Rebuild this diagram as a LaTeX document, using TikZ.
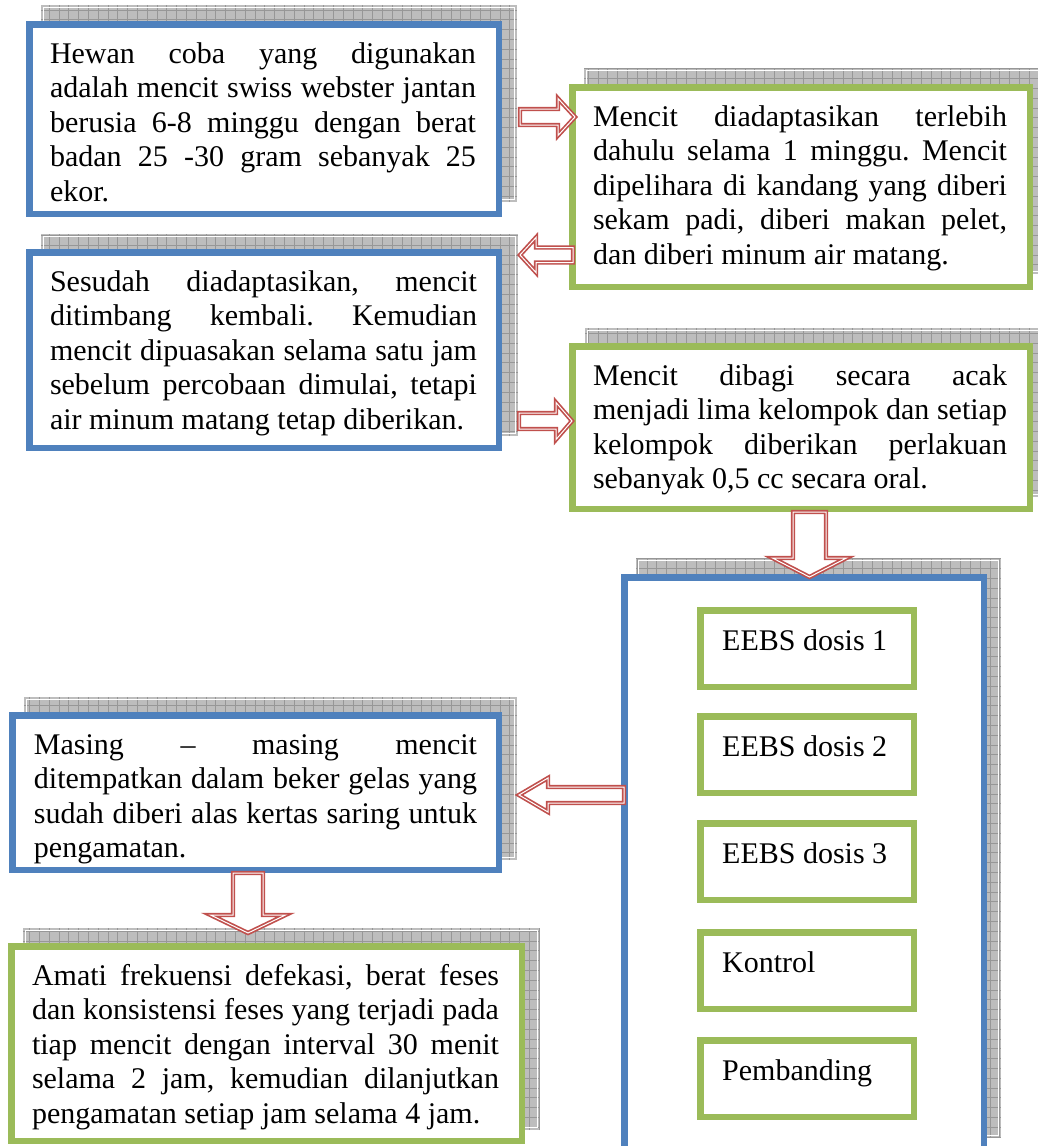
\documentclass[tikz,border=0pt]{standalone}
\usepackage{fontspec}
\setmainfont{Liberation Serif}
\usetikzlibrary{calc}
\definecolor{wblue}{HTML}{4F81BD}
\definecolor{wgreen}{HTML}{9BBB59}
\definecolor{wred}{HTML}{C0504D}
\definecolor{shfill}{HTML}{BDBDBD}
\definecolor{shgrid}{HTML}{979797}
\newlength{\jwid}
\newcommand{\rsp}{\spaceskip=0pt\relax\xspaceskip=0pt\relax}
\newcommand{\jl}[1]{\makebox[\jwid][s]{\rsp #1}\\}
\newcommand{\shadowrect}[4]{%
  \fill[shfill] (#1,#2) rectangle (#3,#4);
  \begin{scope}
    \clip (#1,#2) rectangle (#3,#4);
    \draw[shgrid, line width=0.5pt, step=9.8pt] (#1,#4) grid (#3,#2);
  \end{scope}
  \draw[white, line width=0.7pt] (#1+2.5,#2+2.5) rectangle (#3-2.5,#4-2.5);}
\newcommand{\arrowR}[5]{\draw[barrow] let \p1=(#1), \p2=(#2) in
  (\x1,\y1+#4) -- (\x2-#3,\y1+#4) -- (\x2-#3,\y1+#5) -- (\x2,\y1) --
  (\x2-#3,\y1-#5) -- (\x2-#3,\y1-#4) -- (\x1,\y1-#4) -- cycle;}
\newcommand{\arrowL}[5]{\draw[barrow] let \p1=(#1), \p2=(#2) in
  (\x1,\y1+#4) -- (\x2+#3,\y1+#4) -- (\x2+#3,\y1+#5) -- (\x2,\y1) --
  (\x2+#3,\y1-#5) -- (\x2+#3,\y1-#4) -- (\x1,\y1-#4) -- cycle;}
\newcommand{\arrowD}[5]{\draw[barrow] let \p1=(#1), \p2=(#2) in
  (\x1-#4,\y1) -- (\x1-#4,\y2+#3) -- (\x1-#5,\y2+#3) -- (\x1,\y2) --
  (\x1+#5,\y2+#3) -- (\x1+#4,\y2+#3) -- (\x1+#4,\y1) -- cycle;}
\tikzset{
  frame/.style={anchor=north west, fill=white, line width=6.5pt, inner sep=0pt, outer sep=0pt},
  bluebox/.style={frame, draw=wblue},
  greenbox/.style={frame, draw=wgreen},
  txt/.style={anchor=north west, inner sep=0pt, outer sep=0pt, align=left,
    text width=#1, execute at begin node={\setlength{\jwid}{#1}},
    font=\fontsize{30}{34.5}\selectfont\frenchspacing},
  smalltxt/.style={anchor=base west, inner sep=0pt, font=\fontsize{30}{34.5}\selectfont},
  barrow/.style={fill=white, draw=wred, line width=1.7pt, double=white,
    double distance=1pt, line join=miter},
}
\begin{document}
\begin{tikzpicture}[x=1pt,y=-1pt]
\useasboundingbox (0,0) rectangle (1038,1146);
\clip (0,0) rectangle (1038,1146);
\fill[white] (0,0) rectangle (1038,1146);

% shadows
\shadowrect{41}{5}{517}{202}
\shadowrect{584}{68}{1048}{274}
\shadowrect{41}{234}{518}{436}
\shadowrect{585}{328}{1049}{497}
\shadowrect{24}{697}{517}{860}
\shadowrect{23}{928}{540}{1130}
\shadowrect{636}{558}{1001}{1138}

% frames
\node[bluebox, minimum width=469.5pt, minimum height=189.5pt] (b1) at (29.25,24.25) {};
\node[greenbox, minimum width=457.5pt, minimum height=199.5pt] (b2) at (572.25,87.25) {};
\node[bluebox, minimum width=469.5pt, minimum height=195.5pt] (b3) at (29.25,252.25) {};
\node[greenbox, minimum width=457.5pt, minimum height=162.5pt] (b4) at (572.25,346.25) {};
\node[bluebox, minimum width=486.5pt, minimum height=154.5pt] (b5) at (12.25,715.25) {};
\node[greenbox, minimum width=510.5pt, minimum height=194.5pt] (b6) at (11.25,946.25) {};
\node[bluebox, minimum width=359.5pt, minimum height=574.5pt] (b7) at (624.25,577.25) {};

% inner boxes
\node[greenbox, minimum width=213.5pt, minimum height=76.5pt] (g1) at (700.25,610.25) {};
\node[greenbox, minimum width=213.5pt, minimum height=76.5pt] (g2) at (700.25,716.25) {};
\node[greenbox, minimum width=213.5pt, minimum height=76.5pt] (g3) at (700.25,823.25) {};
\node[greenbox, minimum width=213.5pt, minimum height=76.5pt] (g4) at (700.25,932.25) {};
\node[greenbox, minimum width=213.5pt, minimum height=76.5pt] (g5) at (700.25,1040.25) {};

% texts
\node[txt=426pt] (t1) at (50,42) {\rsp
\jl{\rule{0pt}{21pt}Hewan coba yang digunakan}
\jl{adalah mencit swiss webster jantan}
\jl{berusia 6-8 minggu dengan berat}
\jl{badan 25 -30 gram sebanyak 25}
ekor.};
\node[txt=414pt] (t2) at (593,105) {\rsp
\jl{\rule{0pt}{21pt}Mencit diadaptasikan terlebih}
\jl{dahulu selama 1 minggu. Mencit}
\jl{dipelihara di kandang yang diberi}
\jl{sekam padi, diberi makan pelet,}
dan diberi minum air matang.};
\node[txt=427pt] (t3) at (50,270) {\rsp
\jl{\rule{0pt}{21pt}Sesudah diadaptasikan, mencit}
\jl{ditimbang kembali. Kemudian}
\jl{mencit dipuasakan selama satu jam}
\jl{sebelum percobaan dimulai, tetapi}
air minum matang tetap diberikan.};
\node[txt=414pt] (t4) at (593,364) {\rsp
\jl{\rule{0pt}{21pt}Mencit dibagi secara acak}
\jl{menjadi lima kelompok dan setiap}
\jl{kelompok diberikan perlakuan}
sebanyak 0,5 cc secara oral.};
\node[txt=443pt] (t5) at (34,733) {\rsp
\jl{\rule{0pt}{21pt}Masing – masing mencit}
\jl{ditempatkan dalam beker gelas yang}
\jl{sudah diberi alas kertas saring untuk}
pengamatan.};
\node[txt=467pt] (t6) at (32,964) {\rsp
\jl{\rule{0pt}{21pt}Amati frekuensi defekasi, berat feses}
\jl{dan konsistensi feses yang terjadi pada}
\jl{tiap mencit dengan interval 30 menit}
\jl{selama 2 jam, kemudian dilanjutkan}
pengamatan setiap jam selama 4 jam.};

\node[smalltxt] (l1) at (722,650) {EEBS dosis 1};
\node[smalltxt] (l2) at (722,756) {EEBS dosis 2};
\node[smalltxt] (l3) at (722,863) {EEBS dosis 3};
\node[smalltxt] (l4) at (722,972) {Kontrol};
\node[smalltxt] (l5) at (722,1080) {Pembanding};

% arrow end points
\coordinate (a1s) at (520,117);  \coordinate (a1e) at (575,117);
\coordinate (a2s) at (573,255);  \coordinate (a2e) at (520,255);
\coordinate (a3s) at (519,421);  \coordinate (a3e) at (572,421);
\coordinate (a4s) at (809.5,512); \coordinate (a4e) at (809.5,577);
\coordinate (a5s) at (624,795);  \coordinate (a5e) at (519,795);
\coordinate (a6s) at (248,873);  \coordinate (a6e) at (248,933);

\arrowR{a1s}{a1e}{17}{8}{18.5}
\arrowL{a2s}{a2e}{16}{7.5}{17.5}
\arrowR{a3s}{a3e}{16}{8}{18.5}
\arrowD{a4s}{a4e}{19}{16.5}{37}
\arrowL{a5s}{a5e}{29}{8}{17}
\arrowD{a6s}{a6e}{18}{15}{37.5}
\end{tikzpicture}
\end{document}
